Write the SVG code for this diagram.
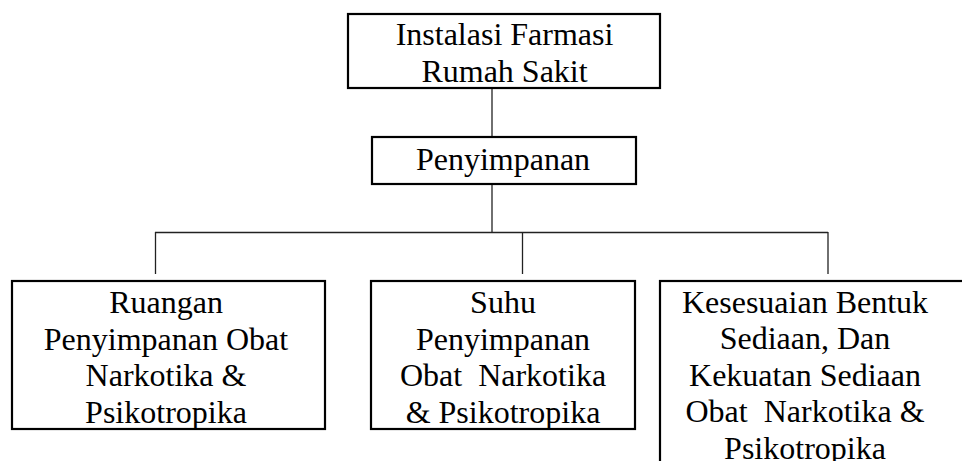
<svg xmlns="http://www.w3.org/2000/svg" width="962" height="461" viewBox="0 0 962 461">
<style>
.box{fill:#fff;stroke:#000;stroke-width:2.2}
.t{font-family:'Liberation Serif','Times New Roman',Tinos,'Nimbus Roman','DejaVu Serif',serif;font-size:32px;fill:#000;text-anchor:middle;white-space:pre}
.c{stroke:#222;stroke-width:1.3;fill:none}
</style>
<rect width="962" height="461" fill="#fff"/>
<g id="connectors">
<line class="c" x1="492" y1="88" x2="492" y2="137"/>
<line class="c" x1="492" y1="184" x2="492" y2="232"/>
<line class="c" x1="155" y1="232.5" x2="828" y2="232.5"/>
<line class="c" x1="155.5" y1="232" x2="155.5" y2="274"/>
<line class="c" x1="522.5" y1="232" x2="522.5" y2="274"/>
<line class="c" x1="828" y1="232" x2="828" y2="274"/>
</g>
<g font-family="Liberation Serif, Times New Roman, serif">
<g id="n-ifrs">
<rect class="box" x="348" y="14" width="312" height="74"/>
<text class="t" x="504.5" y="45">Instalasi Farmasi</text>
<text class="t" x="504.5" y="82">Rumah Sakit</text>
</g>
<g id="n-penyimpanan">
<rect class="box" x="372" y="137" width="264" height="47"/>
<text class="t" x="503" y="170">Penyimpanan</text>
</g>
<g id="n-ruangan">
<rect class="box" x="12" y="281" width="313" height="148"/>
<text class="t" x="166" y="313">Ruangan</text>
<text class="t" x="166" y="350">Penyimpanan Obat</text>
<text class="t" x="166" y="386">Narkotika &amp;</text>
<text class="t" x="166" y="423">Psikotropika</text>
</g>
<g id="n-suhu">
<rect class="box" x="371" y="281" width="264" height="148"/>
<text class="t" x="503" y="313">Suhu</text>
<text class="t" x="503" y="350">Penyimpanan</text>
<text class="t" x="503" y="386">Obat  Narkotika</text>
<text class="t" x="503" y="423">&amp; Psikotropika</text>
</g>
<g id="n-kesesuaian">
<rect class="box" x="660" y="281" width="320" height="200"/>
<text class="t" x="805" y="313">Kesesuaian Bentuk</text>
<text class="t" x="805" y="349">Sediaan, Dan</text>
<text class="t" x="805" y="386">Kekuatan Sediaan</text>
<text class="t" x="805" y="422">Obat  Narkotika &amp;</text>
<text class="t" x="805" y="459">Psikotropika</text>
</g>
</g>
</svg>
